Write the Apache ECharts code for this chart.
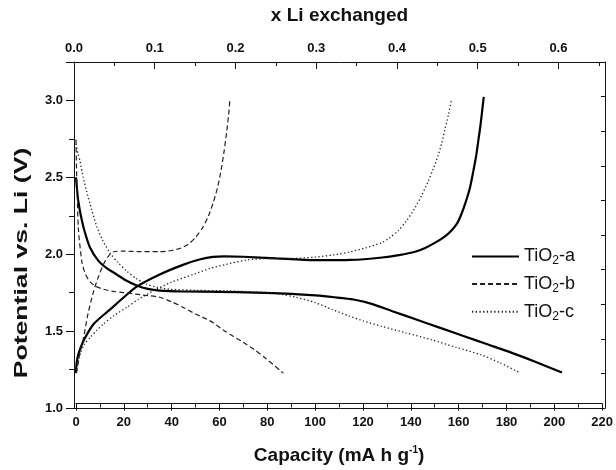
<!DOCTYPE html>
<html><head><meta charset="utf-8">
<script src="https://cdn.jsdelivr.net/npm/echarts@6/dist/echarts.min.js"></script>
<style>html,body{margin:0;padding:0;background:#fff}#c{width:616px;height:470px}</style>
</head><body><div id="c"></div>
<script>
// ---- data ----
const seriesNames = ['TiO2-a', 'TiO2-b', 'TiO2-c'];
const xTicksBottom = [0, 20, 40, 60, 80, 100, 120, 140, 160, 180, 200, 220];
const xTicksTop = [0.0, 0.1, 0.2, 0.3, 0.4, 0.5, 0.6];
const yTicks = [1.0, 1.5, 2.0, 2.5, 3.0];
const yTitle = 'Potential vs. Li (V)';

// TiO2-a
const aDisX = [0, 0.5, 1, 2, 3.5, 5.8, 9.4, 13, 17, 21, 25.4, 30, 35, 45, 60, 75, 90, 100, 108, 116, 124, 132, 142, 152, 162, 172, 182, 192, 203.2];
const aDisY = [2.49, 2.40, 2.33, 2.24, 2.14, 2.03, 1.94, 1.89, 1.85, 1.81, 1.777, 1.755, 1.744, 1.738, 1.736, 1.731, 1.722, 1.712, 1.70, 1.685, 1.655, 1.61, 1.555, 1.50, 1.445, 1.39, 1.335, 1.275, 1.204];
const aChgX = [0, 0.3, 1.1, 3.2, 7.4, 14.3, 20, 25.4, 35, 45, 52, 57.3, 62, 70, 83.6, 100, 115, 128, 135, 141.8, 146, 150, 154, 157, 159.5, 161.2, 163, 164.7, 166, 167.4, 168.3, 169.1, 170.5];
const aChgY = [1.20, 1.27, 1.33, 1.415, 1.524, 1.62, 1.70, 1.77, 1.85, 1.915, 1.95, 1.966, 1.97, 1.967, 1.956, 1.944, 1.946, 1.962, 1.978, 2.0, 2.025, 2.058, 2.098, 2.14, 2.19, 2.25, 2.33, 2.42, 2.52, 2.64, 2.74, 2.83, 3.02];
// TiO2-b
const bDisX = [0, 0.2, 0.5, 1, 2.5, 4, 6, 8.5, 11.5, 15, 19.8, 28.2, 35, 40, 44.8, 50, 55.9, 62, 69.8, 75, 79.5, 86.7];
const bDisY = [2.74, 2.55, 2.38, 2.15, 1.93, 1.85, 1.80, 1.77, 1.753, 1.74, 1.731, 1.714, 1.70, 1.67, 1.633, 1.59, 1.546, 1.48, 1.404, 1.35, 1.295, 1.20];
const bChgX = [0, 0.4, 1.5, 3.2, 5, 7.4, 9.5, 11.5, 13.5, 15.7, 19.8, 27, 35, 40, 44, 47, 50, 53, 55.5, 57.5, 59.3, 60.7, 61.9, 63, 63.8, 64.4];
const bChgY = [1.20, 1.22, 1.32, 1.437, 1.59, 1.742, 1.84, 1.917, 1.97, 2.0, 2.004, 2.0, 2.0, 2.008, 2.025, 2.05, 2.095, 2.16, 2.24, 2.33, 2.43, 2.54, 2.66, 2.79, 2.9, 3.008];
// TiO2-c
const cDisX = [0, 0.8, 1.7, 3, 4.4, 6.5, 8.6, 11, 14.3, 17.5, 21.2, 25, 29.5, 34, 39.3, 50, 62.8, 75, 83.6, 92, 100, 107, 114, 120, 127.9, 138, 148.7, 159, 169.5, 177, 185.5];
const cDisY = [2.71, 2.65, 2.595, 2.49, 2.40, 2.28, 2.17, 2.08, 1.99, 1.93, 1.873, 1.825, 1.786, 1.765, 1.753, 1.746, 1.742, 1.735, 1.725, 1.70, 1.665, 1.62, 1.578, 1.545, 1.508, 1.465, 1.42, 1.37, 1.32, 1.27, 1.204];
const cChgX = [0, 0.4, 1.8, 3.5, 6, 8.5, 11.5, 16, 21.2, 26, 32.3, 40, 49, 56, 62.8, 71.2, 80, 90.6, 100.2, 108, 114, 121, 127.9, 131, 134.8, 138, 141.8, 144.5, 147.3, 149.5, 151.5, 153, 154.3, 155.7, 157];
const cChgY = [1.20, 1.24, 1.33, 1.39, 1.437, 1.48, 1.524, 1.58, 1.633, 1.685, 1.742, 1.80, 1.85, 1.89, 1.917, 1.945, 1.955, 1.956, 1.965, 1.98, 1.997, 2.025, 2.06, 2.09, 2.14, 2.2, 2.29, 2.37, 2.465, 2.55, 2.638, 2.72, 2.81, 2.9, 3.0];

// ---- build ----
const pair = (xs, ys) => xs.map((x, i) => [x, ys[i]]);
const FONT = 'Liberation Sans';
const ink = '#111';
const styles = [
  { width: 2.2, type: 'solid', color: '#000' },
  { width: 1.2, type: [5, 3], color: '#222' },
  { width: 1.3, type: [1.3, 2.4], color: '#222' }
];
const curves = [
  [seriesNames[0], aDisX, aDisY, 0], [seriesNames[0], aChgX, aChgY, 0],
  [seriesNames[1], bDisX, bDisY, 1], [seriesNames[1], bChgX, bChgY, 1],
  [seriesNames[2], cDisX, cDisY, 2], [seriesNames[2], cChgX, cChgY, 2]
];
const series = curves.map(([name, xs, ys, k]) => ({
  name, type: 'line', xAxisIndex: 0, yAxisIndex: 0,
  data: pair(xs, ys), showSymbol: false, symbol: 'none', smooth: 0.25,
  lineStyle: { width: styles[k].width, type: styles[k].type, color: styles[k].color },
  itemStyle: { color: styles[k].color }, animation: false, silent: true
}));

const axisLine = { show: true, onZero: false, lineStyle: { color: ink, width: 1 } };
const labelStyle = { color: ink, fontFamily: FONT, fontWeight: 'bold', fontSize: 13 };
const nameStyle = { color: ink, fontFamily: FONT, fontWeight: 'bold', fontSize: 19 };

const chart = echarts.init(document.getElementById('c'), null, { renderer: 'canvas' });
chart.setOption({
  backgroundColor: '#fff',
  animation: false,
  grid: [
    { left: 76, right: 11, top: 62, bottom: 62 },
    { left: 74, right: 11, top: 62, bottom: 62 }
  ],
  graphic: [{
    type: 'text', silent: true,
    x: 22, y: 263, rotation: Math.PI / 2, scaleX: 1.4,
    style: { text: yTitle, fill: ink, font: 'bold 19px "Liberation Sans"', textAlign: 'center', textVerticalAlign: 'middle' }
  }],
  legend: {
    data: seriesNames, orient: 'vertical', left: 471, top: 246, padding: 0,
    itemWidth: 47, itemHeight: 14, itemGap: 6.6,
    itemStyle: { opacity: 0 },
    formatter: n => 'TiO{s|2}-' + n.slice(-1),
    textStyle: { fontFamily: FONT, fontSize: 18, color: ink, lineHeight: 19,
      rich: { s: { fontFamily: FONT, fontSize: 12, color: ink, padding: [9, 0, 0, 0], lineHeight: 19 } } }
  },
  xAxis: [
    { gridIndex: 0, type: 'value', position: 'bottom', min: 0, max: 220, interval: 20,
      axisLine, splitLine: { show: false },
      axisTick: { show: true, inside: false, length: 7, lineStyle: { color: ink } },
      minorTick: { show: true, splitNumber: 2, length: 4, lineStyle: { color: ink } },
      axisLabel: Object.assign({ margin: 12, formatter: v => xTicksBottom.includes(v) ? String(v) : '' }, labelStyle),
      name: 'Capacity (mA h g{sup|-1})', nameLocation: 'middle', nameGap: 42,
      nameTextStyle: Object.assign({ rich: { sup: { fontFamily: FONT, fontWeight: 'bold', fontSize: 10, color: ink, padding: [0, 0, 10, 0] } } }, nameStyle)
    },
    { gridIndex: 1, type: 'value', position: 'top', min: 0, max: 0.6577, interval: 0.1,
      axisLine, splitLine: { show: false },
      axisTick: { show: true, inside: true, length: 7, lineStyle: { color: ink } },
      minorTick: { show: true, splitNumber: 2, length: 4, lineStyle: { color: ink } },
      axisLabel: Object.assign({ margin: 7, showMaxLabel: false,
        formatter: v => { const t = xTicksTop.find(u => Math.abs(u - v) < 1e-6); return t === undefined ? '' : t.toFixed(1); } }, labelStyle),
      name: 'x Li exchanged', nameLocation: 'middle', nameGap: 37, nameTextStyle: nameStyle
    },
    { gridIndex: 1, type: 'value', position: 'bottom', min: 0, max: 1,
      axisLine, axisTick: { show: false }, axisLabel: { show: false }, splitLine: { show: false } }
  ],
  yAxis: [
    { gridIndex: 0, type: 'value', min: 1, max: 3.25, show: false },
    { gridIndex: 1, type: 'value', position: 'left', min: 1, max: 3.25, interval: 0.5,
      axisLine, splitLine: { show: false },
      axisTick: { show: true, inside: false, length: 8, lineStyle: { color: ink } },
      minorTick: { show: true, splitNumber: 2, length: 5, lineStyle: { color: ink } },
      axisLabel: Object.assign({ margin: 11, showMaxLabel: false,
        formatter: v => { const t = yTicks.find(u => Math.abs(u - v) < 1e-6); return t === undefined ? '' : t.toFixed(1); } }, labelStyle)
    },
    { gridIndex: 1, type: 'value', position: 'right', min: 0, max: 10, interval: 1,
      axisLine, splitLine: { show: false },
      axisTick: { show: true, inside: true, length: 4, lineStyle: { color: ink } },
      axisLabel: { show: false }
    }
  ],
  series
});
</script>
</body></html>
